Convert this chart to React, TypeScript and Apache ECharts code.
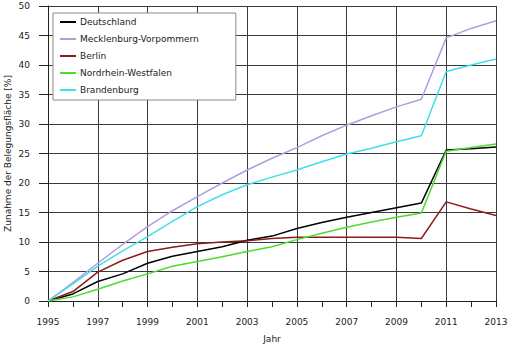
import React, { useEffect, useRef } from "react";
import * as echarts from "echarts";

const years = ["1995","1996","1997","1998","1999","2000","2001","2002","2003","2004","2005","2006","2007","2008","2009","2010","2011","2012","2013"];
const deutschland = [0, 1.2, 3.3, 4.6, 6.4, 7.6, 8.4, 9.2, 10.3, 11.0, 12.3, 13.3, 14.2, 15.0, 15.8, 16.6, 25.6, 25.8, 26.1];
const mecklenburg = [0, 3.1, 6.4, 9.6, 12.6, 15.3, 17.7, 20.0, 22.2, 24.2, 26.0, 28.0, 29.8, 31.4, 32.9, 34.2, 44.6, 46.2, 47.5];
const berlin = [0, 1.6, 4.9, 6.9, 8.4, 9.1, 9.7, 10.0, 10.2, 10.6, 10.8, 10.8, 10.8, 10.8, 10.8, 10.6, 16.8, 15.6, 14.5];
const nrw = [0, 0.7, 2.0, 3.4, 4.6, 5.9, 6.7, 7.5, 8.4, 9.2, 10.4, 11.5, 12.5, 13.4, 14.2, 14.9, 25.4, 26.0, 26.6];
const brandenburg = [0, 2.9, 5.9, 8.5, 10.9, 13.5, 16.0, 18.0, 19.7, 21.0, 22.2, 23.6, 24.9, 25.9, 27.0, 28.0, 38.9, 40.0, 41.0];

const seriesNames = ["Deutschland", "Mecklenburg-Vorpommern", "Berlin", "Nordrhein-Westfalen", "Brandenburg"];
const seriesColors = ["#000000", "#b29ce2", "#8b1c1c", "#4cdc2c", "#3fe0e8"];
const seriesData = [deutschland, mecklenburg, berlin, nrw, brandenburg];

const FONT = "DejaVu Sans";

export default function App() {
  const ref = useRef<HTMLDivElement>(null);
  useEffect(() => {
    if (!ref.current) return;
    const chart = echarts.init(ref.current, undefined, { renderer: "svg" });
    chart.setOption({
      animation: false,
      backgroundColor: "#ffffff",
      textStyle: { fontFamily: FONT },
      grid: { left: 48, right: 13, top: 6, bottom: 46, containLabel: false, outerBoundsMode: "none" },
      legend: {
        orient: "vertical",
        left: 53,
        top: 13,
        icon: "rect",
        itemWidth: 16,
        itemHeight: 2,
        itemGap: 5,
        padding: [3, 37, 4, 7],
        borderColor: "#8a8a8a",
        borderWidth: 1,
        backgroundColor: "#ffffff",
        textStyle: { fontFamily: FONT, fontSize: 9, color: "#222", lineHeight: 12, padding: [0, 0, 0, -1] },
        data: seriesNames,
      },
      xAxis: {
        type: "category",
        data: years,
        boundaryGap: false,
        name: "Jahr",
        nameLocation: "middle",
        nameGap: 33,
        nameMoveOverlap: false,
        nameTextStyle: { fontFamily: FONT, fontSize: 9, color: "#222" },
        axisLine: { show: true, lineStyle: { color: "#222", width: 1 } },
        axisTick: { show: true, interval: 0, length: 6, lineStyle: { color: "#222" } },
        axisLabel: { interval: 1, margin: 16, fontFamily: FONT, fontSize: 9, color: "#222" },
        splitLine: { show: true, interval: 1, lineStyle: { color: "#3a3a3a", width: 1 } },
      },
      yAxis: {
        type: "value",
        min: 0,
        max: 50,
        interval: 5,
        name: "Zunahme der Belegungsfläche [%]",
        nameLocation: "middle",
        nameGap: 36,
        nameMoveOverlap: false,
        nameTextStyle: { fontFamily: FONT, fontSize: 9, color: "#222" },
        axisLine: { show: true, lineStyle: { color: "#222", width: 1 } },
        axisTick: { show: true, length: 9, lineStyle: { color: "#222" } },
        axisLabel: { margin: 18, fontFamily: FONT, fontSize: 9, color: "#222" },
        splitLine: { show: true, lineStyle: { color: "#3a3a3a", width: 1 } },
      },
      series: seriesNames.map((name, i) => ({
        name,
        type: "line",
        data: seriesData[i],
        showSymbol: false,
        symbol: "none",
        color: seriesColors[i],
        lineStyle: { color: seriesColors[i], width: 1.5 },
      })),
    });
    return () => chart.dispose();
  }, []);
  return <div ref={ref} style={{ width: 509, height: 347, position: "absolute", left: 0, top: 0 }} />;
}
